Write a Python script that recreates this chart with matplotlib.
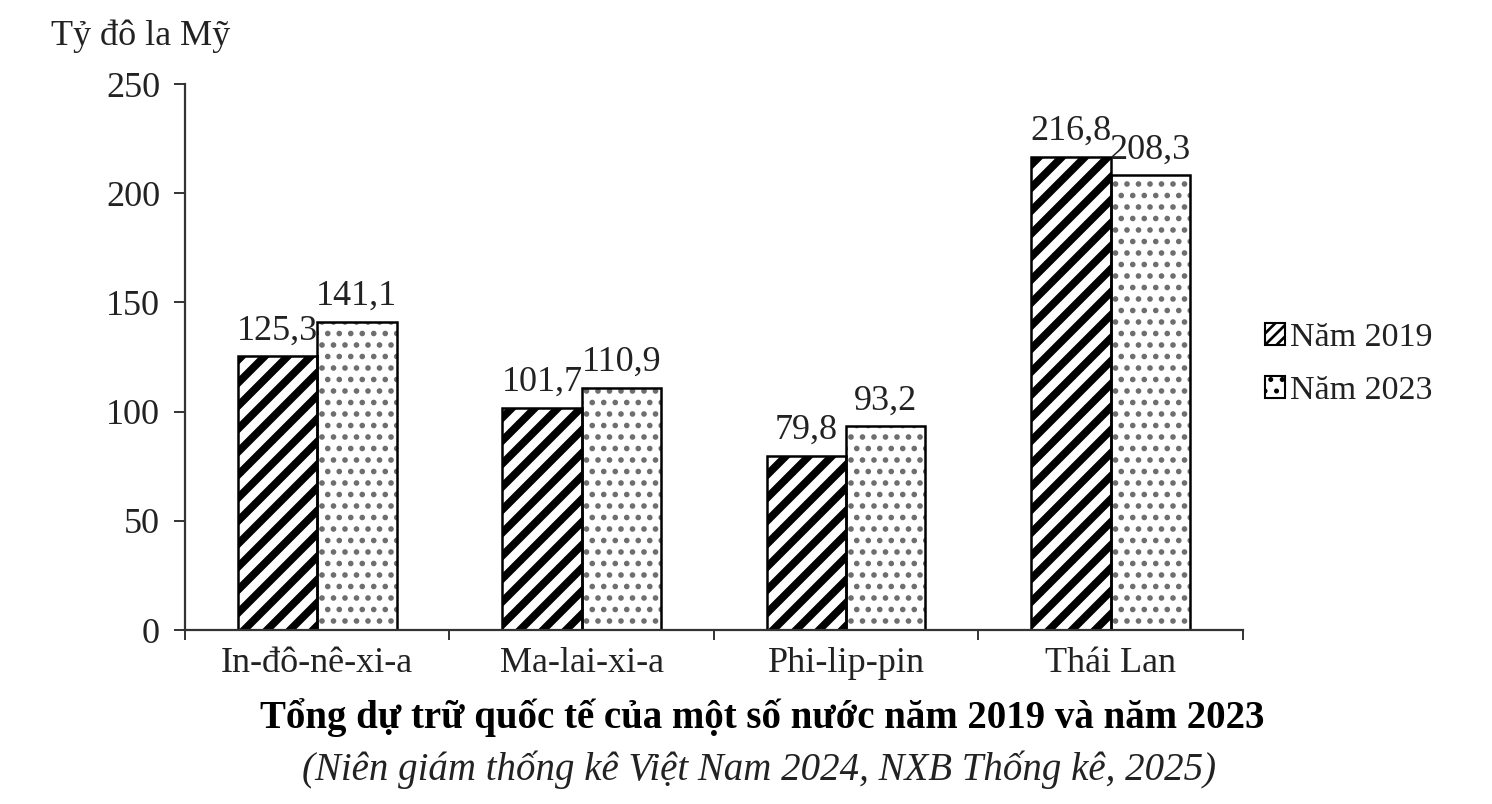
import numpy as np
import matplotlib
matplotlib.use("Agg")
import matplotlib.pyplot as plt
from matplotlib.patches import Patch

plt.rcParams['font.family'] = ['Liberation Serif', 'DejaVu Serif']

# Dữ liệu
nuoc = ["In-đô-nê-xi-a", "Ma-lai-xi-a", "Phi-lip-pin", "Thái Lan"]
nam_2019 = [125.3, 101.7, 79.8, 216.8]
nam_2023 = [141.1, 110.9, 93.2, 208.3]
y_ticks = [0, 50, 100, 150, 200, 250]

# dpi cao hơn để mật độ gạch chéo giống ảnh gốc; K quy đổi cỡ chữ, nét
DPI = 138
K = 100 / DPI

fig = plt.figure(figsize=(1492 / DPI, 804 / DPI), dpi=DPI)
ax = fig.add_axes([0.124, 0.2164, 0.709, 0.6791])

x = np.arange(len(nuoc))
w = 0.30

# Năm 2019 - gạch chéo đậm
plt.rcParams['hatch.linewidth'] = 4.0
b1 = ax.bar(x - w / 2, nam_2019, w, color='white', edgecolor='black',
            hatch='//', linewidth=0)
for p in b1:
    if hasattr(p, 'set_hatch_linewidth'):
        p.set_hatch_linewidth(4.0)

# Năm 2023 - chấm xám
plt.rcParams['hatch.linewidth'] = 1.7
b2 = ax.bar(x + w / 2, nam_2023, w, color='white', edgecolor='#6e6e6e',
            hatch='..', linewidth=0)
for p in b2:
    if hasattr(p, 'set_hatch_linewidth'):
        p.set_hatch_linewidth(1.7)

# viền cột
ax.bar(x - w / 2, nam_2019, w, fill=False, edgecolor='black', linewidth=1.8 * K)
ax.bar(x + w / 2, nam_2023, w, fill=False, edgecolor='black', linewidth=1.8 * K)

# nhãn giá trị
for i in range(len(nuoc)):
    ax.text(x[i] - w / 2, nam_2019[i] + 4, f"{nam_2019[i]:.1f}".replace('.', ','),
            ha='center', va='bottom', fontsize=26 * K, color='#222222')
    ax.text(x[i] + w / 2, nam_2023[i] + 4, f"{nam_2023[i]:.1f}".replace('.', ','),
            ha='center', va='bottom', fontsize=26 * K, color='#222222')

ax.set_xlim(-0.5, 3.5)
ax.set_ylim(0, 250)
ax.set_yticks(y_ticks)
ax.set_xticks(x)
ax.set_xticklabels(nuoc)
ax.set_xticks(np.arange(-0.5, 4.0, 1.0), minor=True)

ax.spines['top'].set_visible(False)
ax.spines['right'].set_visible(False)
ax.spines['left'].set_linewidth(1.6 * K)
ax.spines['bottom'].set_linewidth(1.6 * K)
ax.spines['left'].set_color('#333333')
ax.spines['bottom'].set_color('#333333')

ax.tick_params(axis='y', direction='out', length=8 * K, width=1.4 * K,
               labelsize=26 * K, pad=10 * K, colors='#333333', labelcolor='#222222')
ax.tick_params(axis='x', which='major', length=0, labelsize=26 * K, pad=12 * K,
               labelcolor='#222222')
ax.tick_params(axis='x', which='minor', direction='out', length=7 * K,
               width=1.4 * K, colors='#333333')

fig.text(0.034, 0.955, "Tỷ đô la Mỹ", fontsize=26 * K, ha='left', va='center',
         color='#222222')

# chú giải
plt.rcParams['hatch.linewidth'] = 1.4
h1 = Patch(facecolor='white', edgecolor='black', hatch='////', linewidth=1.5 * K)
h2 = Patch(facecolor='white', edgecolor='black', hatch='..', linewidth=1.5 * K)
fig.legend([h1, h2], ["Năm 2019", "Năm 2023"], loc='center left',
           bbox_to_anchor=(0.827, 0.547), frameon=False, fontsize=24.5 * K,
           handlelength=0.6, handleheight=0.6, handletextpad=0.15,
           labelspacing=0.65, labelcolor='#222222')

fig.text(0.511, 0.107, "Tổng dự trữ quốc tế của một số nước năm 2019 và năm 2023",
         fontsize=28 * K, fontweight='bold', ha='center', va='center', color='black')
fig.text(0.509, 0.042, "(Niên giám thống kê Việt Nam 2024, NXB Thống kê, 2025)",
         fontsize=28 * K, fontstyle='italic', ha='center', va='center', color='#222222')

fig.savefig("out.png", dpi=DPI)
